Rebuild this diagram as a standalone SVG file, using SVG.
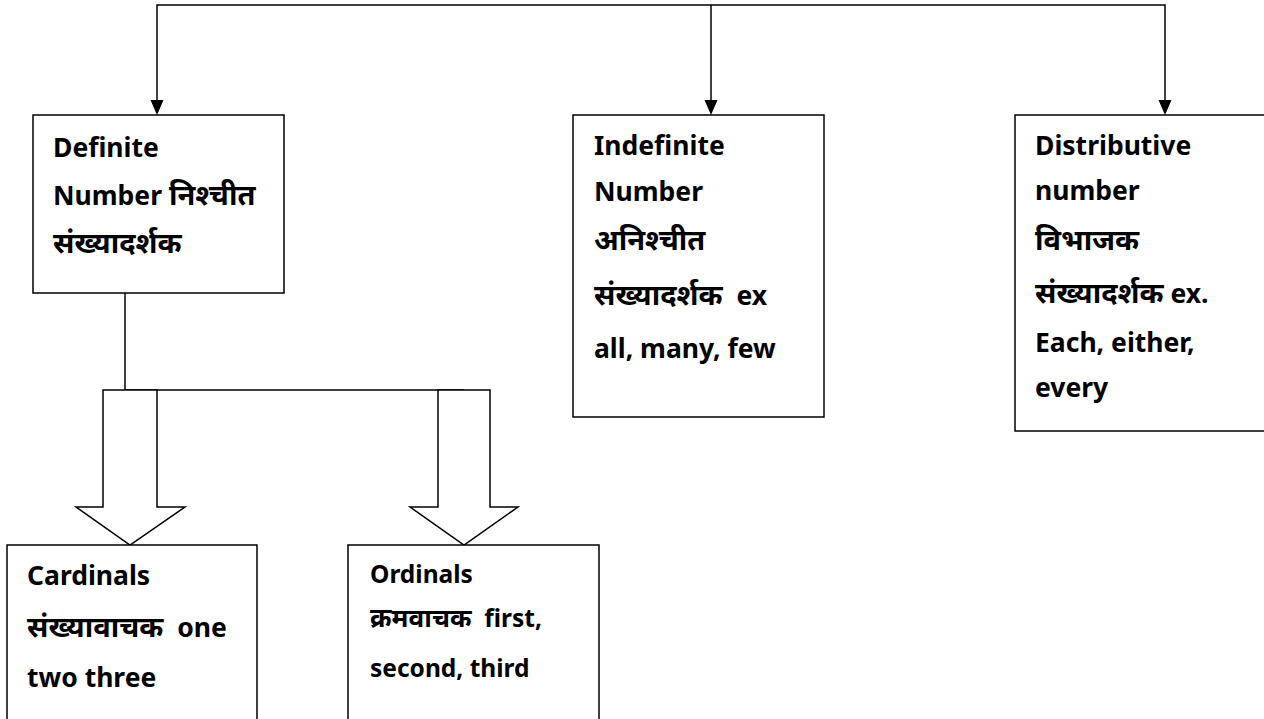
<svg xmlns="http://www.w3.org/2000/svg" width="1264" height="719" viewBox="0 0 1264 719">
<defs>
<style>
.box{fill:#fff;stroke:#000;stroke-width:1.5}
.ln{fill:none;stroke:#000;stroke-width:1.5}
.t{font-family:"Noto Sans","Noto Sans Devanagari","Lohit Devanagari",sans-serif;font-weight:bold;font-size:26.5px;fill:#000;white-space:pre}
.s{font-size:24.5px}
.d{font-size:29px}
.ds{font-size:26px}
</style>
</defs>
<rect width="1264" height="719" fill="#fff"/>
<g id="connectors">
<path class="ln" d="M157,100 V5 H1165 V100"/>
<path class="ln" d="M711,5 V100"/>
<path d="M150.5,100 L163.5,100 L157,115 Z M704.5,100 L717.5,100 L711,115 Z M1158.5,100 L1171.5,100 L1165,115 Z" fill="#000"/>
<path class="ln" d="M125,293 V390 H464"/>
<path class="box" d="M103,390 H157 V507 H185 L130,545 L76,507 H103 Z"/>
<path class="box" d="M438,390 H490 V507 H518 L464,545 L410,507 H438 Z"/>
</g>
<g id="definite">
<rect class="box" x="33" y="115" width="251" height="178"/>
<text class="t" x="53" y="157">Definite</text>
<text class="t" x="53" y="205" xml:space="preserve">Number <tspan class="d">निश्चीत</tspan></text>
<text class="t d" x="53" y="253">संख्यादर्शक</text>
</g>
<g id="indefinite">
<rect class="box" x="573" y="115" width="251" height="302"/>
<text class="t" x="594" y="155">Indefinite</text>
<text class="t" x="594" y="201">Number</text>
<text class="t d" x="594" y="250">अनिश्चीत</text>
<text class="t" x="594" y="305" xml:space="preserve"><tspan class="d">संख्यादर्शक</tspan>  ex</text>
<text class="t" x="594" y="358">all, many, few</text>
</g>
<g id="distributive">
<rect class="box" x="1015" y="115" width="260" height="316"/>
<text class="t" x="1035" y="155">Distributive</text>
<text class="t" x="1035" y="200">number</text>
<text class="t d" x="1035" y="250">विभाजक</text>
<text class="t" x="1035" y="303" xml:space="preserve"><tspan class="d">संख्यादर्शक</tspan> ex.</text>
<text class="t" x="1035" y="352">Each, either,</text>
<text class="t" x="1035" y="397">every</text>
</g>
<g id="cardinals">
<rect class="box" x="7" y="545" width="250" height="190"/>
<text class="t" x="27" y="585">Cardinals</text>
<text class="t" x="27" y="637" xml:space="preserve"><tspan class="d">संख्यावाचक</tspan>  one</text>
<text class="t" x="27" y="687">two three</text>
</g>
<g id="ordinals">
<rect class="box" x="348" y="545" width="251" height="190"/>
<text class="t s" x="370" y="583">Ordinals</text>
<text class="t s" x="370" y="627" xml:space="preserve"><tspan class="ds">क्रमवाचक</tspan>  first,</text>
<text class="t s" x="370" y="677">second, third</text>
</g>
</svg>
